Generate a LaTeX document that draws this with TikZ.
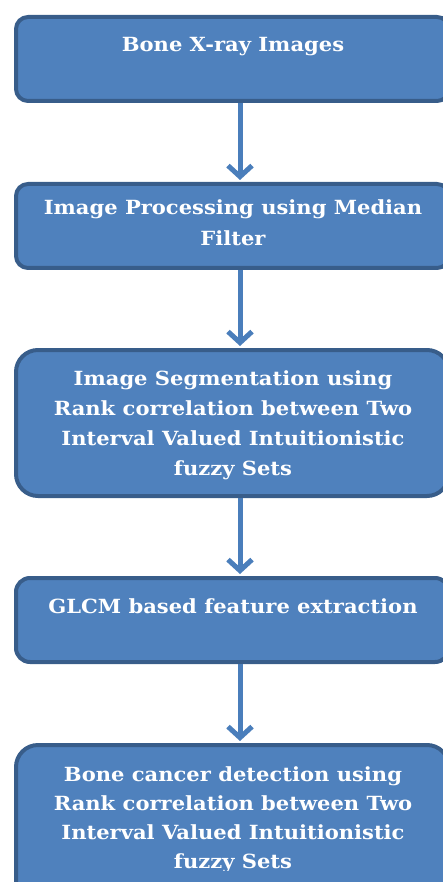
\documentclass[tikz,border=0pt]{standalone}
\usepackage{fontspec}
\setmainfont{DejaVu Serif}[FakeStretch=1.08]
\usetikzlibrary{arrows.meta}
\definecolor{boxfill}{HTML}{4F81BD}
\definecolor{boxline}{HTML}{385D8A}
\definecolor{arrcol}{HTML}{4A7EBB}
\begin{document}
\begin{tikzpicture}[x=1pt,y=-1pt,
  flowbox/.style={draw=boxline, fill=boxfill, line width=4pt, rounded corners=12pt,
    minimum width=433pt, anchor=north west, inner sep=0pt},
  boxtext/.style={text=white, font=\bfseries\fontsize{19.5}{30}\selectfont, align=center, anchor=base, inner sep=0pt},
  arr/.style={draw=arrcol, line width=5pt, -{Straight Barb[length=11pt,width=24pt,line width=5pt]}}]
\useasboundingbox (0,0) rectangle (443,882);
\clip (0,0) rectangle (443,882);
\node[flowbox, minimum height=84pt] (b1) at (14,15) {};
\node[flowbox, minimum height=84pt] (b2) at (14,182) {};
\node[flowbox, minimum height=146pt, rounded corners=22pt] (b3) at (14,348) {};
\node[flowbox, minimum height=84pt, rounded corners=14pt] (b4) at (14,576) {};
\node[flowbox, minimum height=160pt, rounded corners=22pt] (b5) at (14,743) {};
\coordinate (ax) at (240,0);
\draw[arr] (b1.south -| ax) -- ([yshift=2pt]b2.north -| ax);
\draw[arr] (b2.south -| ax) -- ([yshift=2pt]b3.north -| ax);
\draw[arr] (b3.south -| ax) -- ([yshift=2pt]b4.north -| ax);
\draw[arr] (b4.south -| ax) -- ([yshift=2pt]b5.north -| ax);
\node[boxtext] (t1) at (233,52) {Bone X-ray Images};
\node[boxtext, font=\bfseries\fontsize{19.5}{31}\selectfont] (t2) at (233,246) {Image Processing using Median\\Filter};
\node[boxtext] (t3) at (233,475) {Image Segmentation using\\Rank correlation between Two\\Interval Valued Intuitionistic\\fuzzy Sets};
\node[boxtext] (t4) at (233,613) {GLCM based feature extraction};
\begin{scope}
\clip (0,0) rectangle (443,870);
\node[boxtext, font=\bfseries\fontsize{19.5}{28.7}\selectfont] (t5) at (233,868) {Bone cancer detection using\\Rank correlation between Two\\Interval Valued Intuitionistic\\fuzzy Sets};
\end{scope}
\end{tikzpicture}
\end{document}
